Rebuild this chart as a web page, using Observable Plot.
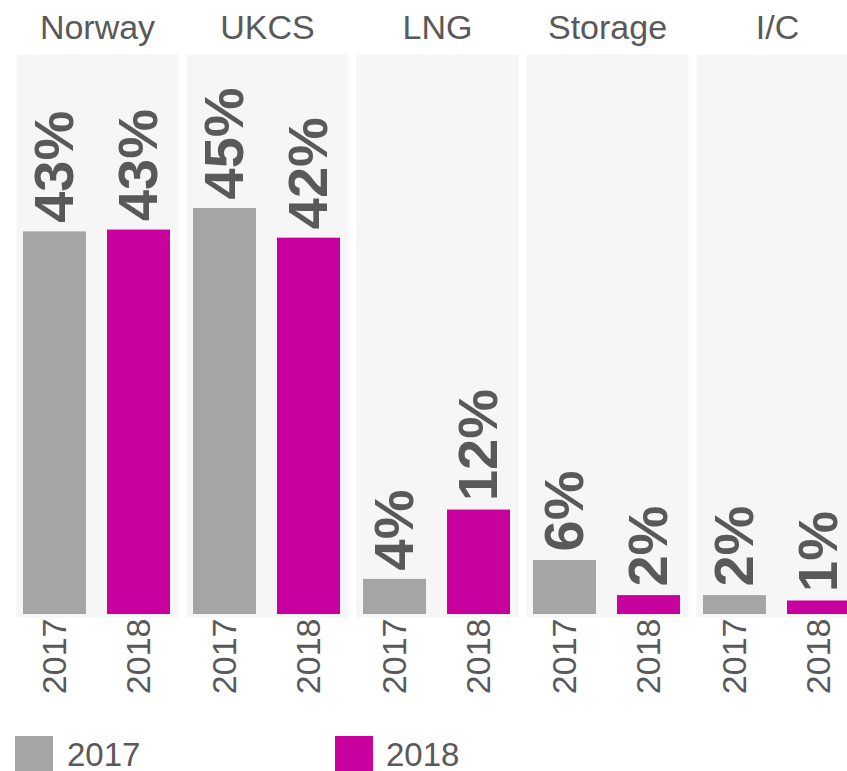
<!DOCTYPE html>
<html><head><meta charset="utf-8">
<script src="https://cdn.jsdelivr.net/npm/d3@7"></script>
<script src="https://cdn.jsdelivr.net/npm/@observablehq/plot@0.6"></script>
<style>
html,body{margin:0;padding:0;overflow:hidden;background:#fff;}
body{width:847px;height:771px;position:relative;font-family:"Liberation Sans",Arial,sans-serif;}
#chart{position:absolute;left:0;top:0;}
.sw{position:absolute;top:736px;width:38px;height:35px;}
.lt{position:absolute;top:740px;font-size:33px;line-height:30px;color:#595959;white-space:nowrap;}
</style></head><body><div id="chart"></div><div id="legend"></div>
<script>
const sources = ["Norway", "UKCS", "LNG", "Storage", "I/C"];
const years = ["2017", "2018"];
const share2017 = [42.5, 45.1, 3.9, 6.0, 2.1];
const share2018 = [42.7, 41.8, 11.6, 2.1, 1.5];
const labels2017 = ["43%", "45%", "4%", "6%", "2%"];
const labels2018 = ["43%", "42%", "12%", "2%", "1%"];
const colors = ["#a5a5a5", "#c8009e"];

const data = sources.flatMap((s, i) => [
  {source: s, year: years[0], share: share2017[i], label: labels2017[i]},
  {source: s, year: years[1], share: share2018[i], label: labels2018[i]}
]);

const H = 725;
const plot = Plot.plot({
  width: 861, height: H,
  marginLeft: 14, marginRight: 0, marginTop: 54, marginBottom: H - 614,
  style: {fontFamily: '"Liberation Sans", Arial, sans-serif', color: "#595959", background: "transparent", overflow: "visible", maxWidth: "none"},
  fx: {domain: sources, paddingInner: 8 / 171, paddingOuter: 0, label: null},
  x: {domain: years, paddingInner: 21 / 85, paddingOuter: 7 / 85, label: null},
  y: {domain: [0, 62.2], axis: null},
  color: {domain: years, range: colors},
  marks: [
    Plot.frame({fill: "#f6f6f6", stroke: null, insetBottom: -3}),
    Plot.barY(data, {fx: "source", x: "year", y: "share", fill: "year"}),
    Plot.text(data, {fx: "source", x: "year", y: "share", text: "label", rotate: -90, textAnchor: "start", dy: -9, fontSize: 56, fontWeight: "bold", fill: "#595959"}),
    Plot.axisFx({anchor: "top", tickSize: 0, tickPadding: 16, fontSize: 34, label: null}),
    Plot.axisX({anchor: "bottom", tickSize: 0, tickPadding: 4, tickRotate: -90, fontSize: 34, label: null})
  ]
});
document.getElementById("chart").appendChild(plot);

const legend = document.getElementById("legend");
const swLeft = [15, 335], txLeft = [67, 386];
years.forEach((y, i) => {
  const sw = document.createElement("div");
  sw.className = "sw"; sw.style.left = swLeft[i] + "px"; sw.style.background = colors[i];
  const t = document.createElement("div");
  t.className = "lt"; t.style.left = txLeft[i] + "px"; t.textContent = y;
  legend.appendChild(sw); legend.appendChild(t);
});
</script>
</body></html>
